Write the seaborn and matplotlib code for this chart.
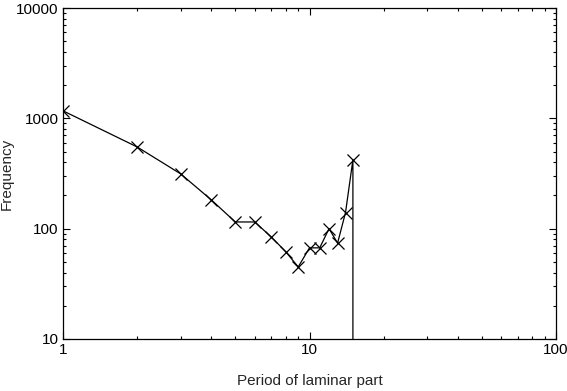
import matplotlib
matplotlib.use("Agg")
import matplotlib.pyplot as plt
import seaborn as sns
import pandas as pd
from matplotlib.ticker import LogLocator, NullFormatter

sns.set_theme(style="ticks")
plt.rcParams['font.family'] = ['Liberation Sans', 'DejaVu Sans']

period = [1, 2, 3, 4, 5, 6, 7, 8, 9, 10, 11, 12, 13, 14, 15, 15]
frequency = [1170, 550, 314, 182, 115, 115, 84, 62, 45, 67, 67, 100, 74, 140, 421, 0]

df = pd.DataFrame({"period": period, "frequency": frequency})
pos = df[df["frequency"] > 0]

fig = plt.figure(figsize=(5.67, 3.91), dpi=100)
ax = fig.add_axes([63/567, 1-339/391, (556-63)/567, (339-8)/391])

sns.lineplot(data=df, x="period", y="frequency", ax=ax, sort=False, estimator=None,
             color="black", linewidth=0.9)
sns.scatterplot(data=pos, x="period", y="frequency", ax=ax, marker="x",
                color="black", s=75, linewidth=0.9)

ax.set_xscale("log")
ax.set_yscale("log")
ax.set_xlim(1, 100)
ax.set_ylim(10, 10000)
ax.xaxis.set_minor_locator(LogLocator(base=10, subs=range(2, 10), numticks=20))
ax.yaxis.set_minor_locator(LogLocator(base=10, subs=range(2, 10), numticks=20))
ax.xaxis.set_minor_formatter(NullFormatter())
ax.yaxis.set_minor_formatter(NullFormatter())
ax.set_xticks([1, 10, 100])
ax.set_xticklabels(["1", "10", "100"])
ax.set_yticks([10, 100, 1000, 10000])
ax.set_yticklabels(["10", "100", "1000", "10000"])

ax.tick_params(which="both", direction="in", top=True, right=True, colors="black",
               labelsize=11, width=0.8)
ax.tick_params(which="major", length=5, pad=3)
ax.tick_params(which="minor", length=2.5)
for s in ax.spines.values():
    s.set_color("black")
    s.set_linewidth(0.9)

ax.set_xlabel("Period of laminar part", fontsize=11, labelpad=12)
ax.set_ylabel("Frequency", fontsize=11, labelpad=2)

fig.savefig("out.png", dpi=100)
